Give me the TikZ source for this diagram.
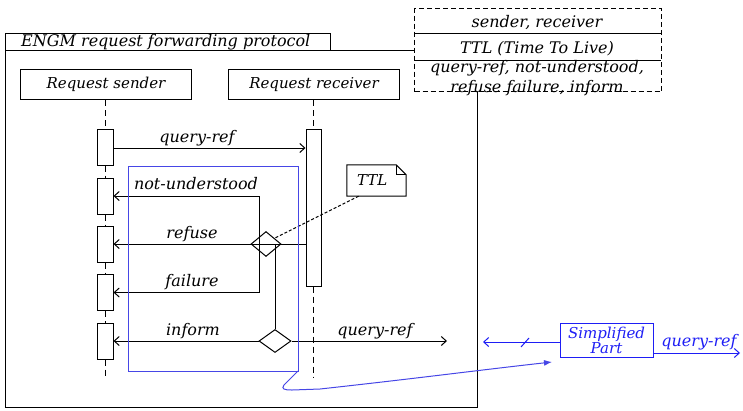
\documentclass[tikz,border=0pt]{standalone}
\usepackage{fontspec}
\setmainfont{DejaVu Serif}
\usetikzlibrary{arrows.meta,shapes.geometric,calc}
\definecolor{umlblue}{RGB}{70,70,230}
\definecolor{partblue}{RGB}{30,30,245}
\tikzset{
  x=1pt, y=-1pt,
  every node/.style={font=\fontsize{16}{18}\selectfont\itshape, inner sep=0pt},
  base/.style={line width=1pt},
  boxed/.style={base, draw, rectangle, fill=white},
  actbox/.style={boxed, minimum width=16pt, minimum height=36pt},
  lifeline/.style={base, dash pattern=on 6pt off 4pt},
  msg/.style={base, -{Straight Barb[length=5pt,width=9pt]}},
  choice/.style={base, draw, diamond, aspect=1.2, fill=none},
  lbl/.style={anchor=base},
  rolebox/.style={boxed, anchor=north west, minimum width=171pt, minimum height=30pt,
                  font=\fontsize{15}{17}\selectfont\itshape},
}
\begin{document}
\begin{tikzpicture}
\useasboundingbox (0,0) rectangle (743,410);

% protocol frame and its name tab
\draw[base] (5,50) rectangle (477,407);
\node[boxed, anchor=north west, minimum width=325pt, minimum height=17pt] (tab) at (5,33) {};
\node[anchor=base west] (tabtext) at (21,46) {ENGM request forwarding protocol};

% parameter box
\node[base, draw, dash pattern=on 5pt off 3pt, fill=white, rectangle, anchor=north west,
      minimum width=247pt, minimum height=83pt] (params) at (414,8) {};
\draw[base] (414,33) -- (661,33);
\draw[base] (414,60) -- (661,60);
\node[lbl] (p1) at (537,27) {sender, receiver};
\node[lbl] (p2) at (537,53) {TTL (Time To Live)};
\node[lbl] (p3) at (537,72) {query-ref, not-understood,};
\node[lbl] (p4) at (537,92) {refuse failure, inform};

% roles
\node[rolebox] (snd) at (20,69) {Request sender};
\node[rolebox] (rcv) at (228,69) {Request receiver};

% activations of the sender
\node[actbox] (sa1) at (105,147) {};
\node[actbox] (sa2) at (105,196) {};
\node[actbox] (sa3) at (105,244) {};
\node[actbox] (sa4) at (105,292.5) {};
\node[actbox] (sa5) at (105,341) {};
\coordinate (send) at (105,377);

% activation of the receiver
\node[boxed, minimum width=15pt, minimum height=157pt] (ra) at (313.5,207.5) {};
\coordinate (rend) at (313.5,378);

% lifelines
\draw[lifeline] (snd.south -| sa1) -- (sa1.north);
\draw[lifeline] (sa1.south) -- (sa2.north);
\draw[lifeline] (sa2.south) -- (sa3.north);
\draw[lifeline] (sa3.south) -- (sa4.north);
\draw[lifeline] (sa4.south) -- (sa5.north);
\draw[lifeline] (sa5.south) -- (send);
\draw[lifeline] (rcv.south -| ra) -- (ra.north);
\draw[lifeline] (ra.south) -- (rend);

% decisions
\node[choice, minimum width=30pt, minimum height=25pt] (d1) at (266,244) {};
\node[choice, minimum width=32pt, minimum height=23pt] (d2) at (275,341) {};

% messages
\draw[msg] (sa1.east |- 0,148) coordinate (q1) -- (ra.west |- q1);
\node[lbl] (lq1) at (197,142) {query-ref};

\coordinate (nu) at (259,196);
\coordinate (fl) at (259,292.5);
\draw[msg] (nu) -- (sa2.east);
\draw[base] (nu) -- (fl);
\node[lbl] (lnu) at (196,189) {not-understood};

\draw[msg] (ra.west |- d1) -- (sa3.east);
\node[lbl] (lrf) at (192,238) {refuse};

\draw[msg] (fl) -- (sa4.east);
\node[lbl] (lfl) at (192,286) {failure};

\draw[base] (275,244) -- (d2.north);
\draw[msg] (d2.west) -- (sa5.east);
\node[lbl] (lin) at (193,335) {inform};

\coordinate (q2) at (447,341);
\draw[msg] (d2.east) -- (q2);
\node[lbl] (lq2) at (375,335) {query-ref};

% time-to-live note
\node[minimum width=59pt, minimum height=31pt, text width=51pt, align=left,
      font=\fontsize{15}{17}\selectfont\itshape] (ttl) at (376.5,180.5) {\hspace*{6pt}TTL};
\draw[base, fill=none] (ttl.north west) -- ($(ttl.north east)+(-10,0)$) -- ($(ttl.north east)+(0,10)$)
  -- (ttl.south east) -- (ttl.south west) -- cycle;
\draw[base] ($(ttl.north east)+(-10,0)$) -- ($(ttl.north east)+(-10,10)$) -- ($(ttl.north east)+(0,10)$);
\draw[base, densely dashed] ($(ttl.south west)!0.2!(ttl.south east)$) -- ($(d1.center)+(9,-6)$);

% simplified part
\draw[line width=1pt, umlblue] (128,166) rectangle (298,371);
\node[draw=partblue, line width=1pt, text=partblue, minimum width=93pt, minimum height=34pt,
      align=center, font=\fontsize{15}{15}\selectfont\itshape] (sp) at (606.5,340) {Simplified\\Part};
\draw[line width=1pt, umlblue, -{Latex[length=8pt,width=6pt]}] (298,371) -- (284,385)
  .. controls (281,389) and (284,390) .. (292,390) -- (320,389)
  .. controls (420,378) and (480,370) .. (552,362);
\coordinate (spin) at (483,342);
\draw[line width=1pt, partblue, -{Straight Barb[length=5pt,width=9pt]}] (sp.west |- spin) -- (spin);
\draw[line width=1pt, partblue] (521,347) -- (529,338);
\coordinate (spout) at (740,353);
\draw[line width=1pt, partblue, -{Straight Barb[length=5pt,width=9pt]}] (sp.east |- spout) -- (spout);
\node[lbl, text=partblue] (lspq) at (699,346) {query-ref};
\end{tikzpicture}
\end{document}
